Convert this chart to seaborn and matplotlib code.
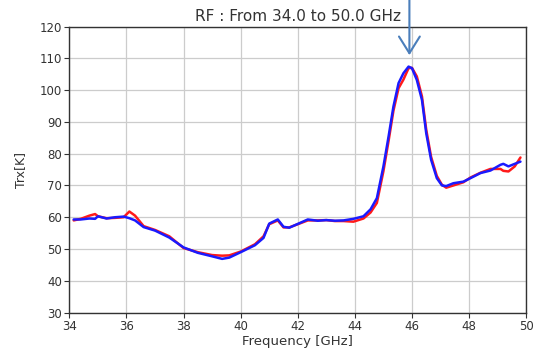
import numpy as np
import pandas as pd
import matplotlib
matplotlib.use("Agg")
import matplotlib.pyplot as plt
import seaborn as sns

# Frequency points [GHz] and the two measured Trx curves [K]
freq = [34.15, 34.4, 34.7, 34.9, 35.0, 35.3, 35.6, 35.9, 36.1, 36.3, 36.6, 37.0,
        37.5, 38.0, 38.5, 39.0, 39.35, 39.6, 40.0, 40.5, 40.8, 41.0, 41.3, 41.5,
        41.7, 42.0, 42.35, 42.7, 43.0, 43.3, 43.6, 43.95, 44.3, 44.55, 44.77, 45.0,
        45.18, 45.35, 45.53, 45.7, 45.88, 46.0, 46.17, 46.35, 46.5, 46.67, 46.87,
        47.05, 47.2, 47.45, 47.8, 48.05, 48.4, 48.75, 49.1, 49.2, 49.38, 49.6, 49.8]

trx_red = [59.0, 59.5, 60.5, 61.0, 60.3, 59.7, 59.8, 60.0, 61.8, 60.5, 57.2, 56.0,
           54.0, 50.3, 49.0, 48.1, 47.9, 48.0, 49.2, 51.5, 54.0, 57.8, 59.0, 56.8,
           56.8, 57.8, 59.0, 59.0, 59.1, 58.8, 58.8, 58.6, 59.6, 61.5, 64.5, 74.5,
           84.0, 93.5, 100.6, 103.3, 106.9, 107.0, 104.3, 98.0, 87.5, 79.0, 73.0,
           70.2, 69.3, 70.0, 71.0, 72.5, 74.0, 75.2, 75.2, 74.6, 74.4, 76.0, 78.8]

trx_blue = [59.3, 59.3, 59.6, 59.5, 60.3, 59.6, 60.0, 60.2, 59.7, 59.0, 56.9, 55.8,
            53.6, 50.5, 48.8, 47.7, 46.9, 47.3, 49.0, 51.2, 53.5, 58.0, 59.3, 57.0,
            56.7, 57.9, 59.3, 58.9, 59.1, 58.9, 59.0, 59.5, 60.3, 62.5, 66.0, 76.0,
            85.4, 94.8, 102.2, 105.3, 107.4, 106.9, 103.2, 96.9, 86.4, 78.1, 72.3,
            70.0, 69.8, 70.7, 71.2, 72.3, 73.9, 74.7, 76.5, 76.8, 76.0, 76.8, 77.5]

peak_freq = 45.91
peak_arrow_tip = 111.0

x_ticks = list(range(34, 51, 2))
y_ticks = list(range(30, 121, 10))

df = pd.DataFrame({"freq": freq * 2,
                   "trx": trx_red + trx_blue,
                   "run": ["red"] * len(freq) + ["blue"] * len(freq)})

sns.set_theme(style="ticks")
plt.rcParams["font.family"] = ["DejaVu Sans"]

fig = plt.figure(figsize=(5.38, 3.54), dpi=100)
ax = fig.add_axes([0.129, 0.117, 0.849, 0.808])

sns.lineplot(data=df, x="freq", y="trx", hue="run", sort=False,
             palette={"red": "#ff1a1a", "blue": "#1a1aff"},
             linewidth=1.8, legend=False, ax=ax, estimator=None)

ax.set_xlim(34, 50)
ax.set_ylim(30, 120)
ax.set_xticks(x_ticks)
ax.set_yticks(y_ticks)
ax.tick_params(labelsize=8.5, length=3.5, width=0.8, colors="#333333", pad=2)
ax.grid(True, color="#cccccc", linewidth=0.9)
ax.set_axisbelow(True)
for sp in ax.spines.values():
    sp.set_color("#333333")
    sp.set_linewidth(1.0)

ax.set_xlabel("Frequency [GHz]", fontsize=9.5, color="#333333", labelpad=1)
ax.set_ylabel("Trx[K]", fontsize=9, color="#333333", labelpad=9)
ax.set_title("RF : From 34.0 to 50.0 GHz", fontsize=11, color="#333333", pad=4)

# marker arrow pointing at the peak
ax.annotate("", xy=(peak_freq, peak_arrow_tip), xycoords="data",
            xytext=(peak_freq, 1.0), textcoords=("data", "figure fraction"),
            arrowprops=dict(arrowstyle="->,head_length=0.4,head_width=0.25",
                            color="#4a7ebb", lw=1.5, mutation_scale=30,
                            shrinkA=0, shrinkB=0),
            annotation_clip=False)

fig.savefig("out.png", dpi=100)
